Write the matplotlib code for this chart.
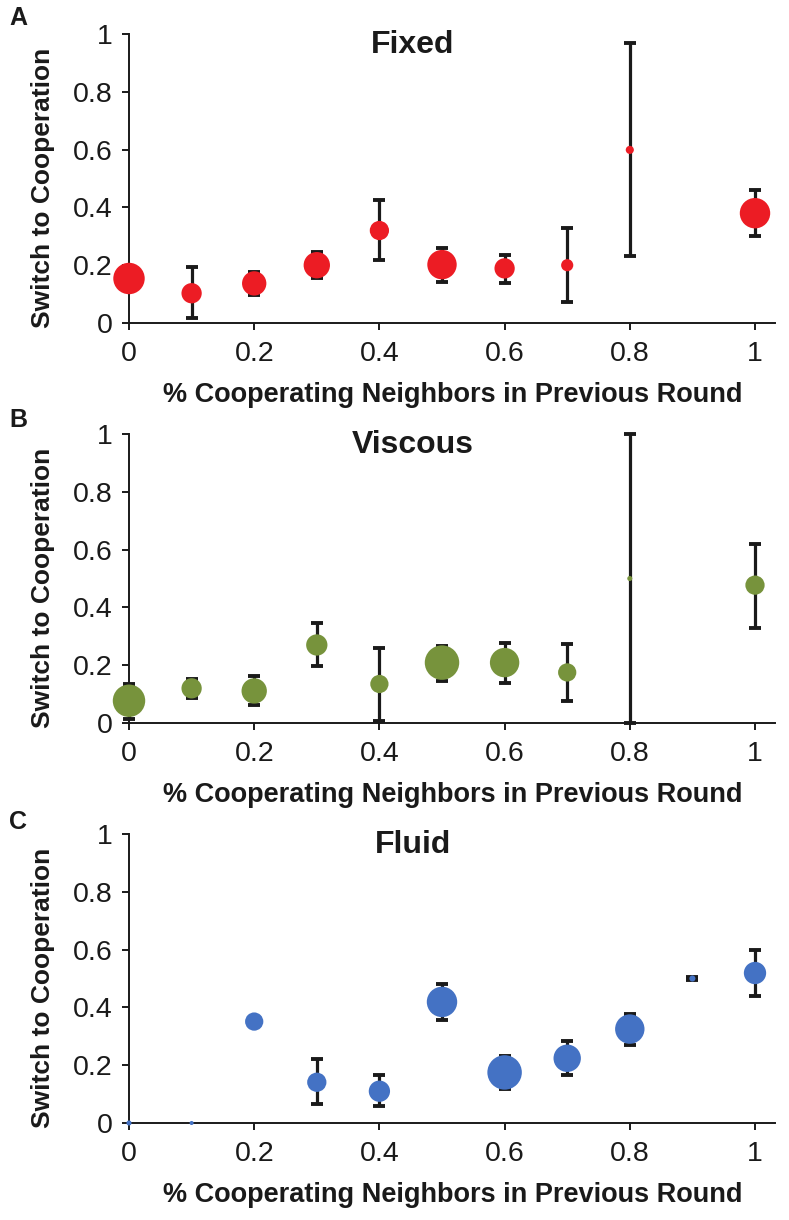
import numpy as np
import matplotlib
matplotlib.use('Agg')
import matplotlib.pyplot as plt

plt.rcParams['font.family'] = ['Liberation Sans', 'DejaVu Sans']

# neighbour share (x), switch rate (y), error bar ends, marker diameter (px)
fixed_x = [0, 0.1, 0.2, 0.3, 0.4, 0.5, 0.6, 0.7, 0.8, 1.0]
fixed_y = [0.154, 0.103, 0.137, 0.200, 0.320, 0.202, 0.189, 0.200, 0.599, 0.380]
fixed_lo = [np.nan, 0.016, 0.097, 0.154, 0.217, 0.143, 0.139, 0.071, 0.233, 0.301]
fixed_hi = [np.nan, 0.194, 0.177, 0.246, 0.424, 0.261, 0.236, 0.329, 0.968, 0.460]
fixed_n = [31, 20, 24, 26, 19, 29, 20, 12, 8, 30]

viscous_x = [0, 0.1, 0.2, 0.3, 0.4, 0.5, 0.6, 0.7, 0.8, 1.0]
viscous_y = [0.077, 0.120, 0.111, 0.270, 0.135, 0.209, 0.209, 0.175, 0.500, 0.477]
viscous_lo = [0.014, 0.085, 0.062, 0.196, 0.008, 0.146, 0.138, 0.077, 0.0, 0.330]
viscous_hi = [0.136, 0.153, 0.164, 0.346, 0.258, 0.268, 0.277, 0.274, 1.0, 0.620]
viscous_n = [32, 20, 25, 21, 18, 34, 29, 18, 5, 19]

fluid_x = [0, 0.1, 0.2, 0.3, 0.4, 0.5, 0.6, 0.7, 0.8, 0.9, 1.0]
fluid_y = [0.0, 0.0, 0.351, 0.141, 0.110, 0.419, 0.175, 0.224, 0.325, 0.500, 0.519]
fluid_lo = [np.nan, np.nan, np.nan, 0.067, 0.058, 0.358, 0.118, 0.166, 0.271, 0.495, 0.441]
fluid_hi = [np.nan, np.nan, np.nan, 0.221, 0.165, 0.482, 0.233, 0.283, 0.378, 0.505, 0.597]
fluid_n = [5, 4, 18, 19, 21, 30, 34, 27, 29, 6, 22]

panels = [
    ('A', 'Fixed', '#EC1C24', fixed_x, fixed_y, fixed_lo, fixed_hi, fixed_n),
    ('B', 'Viscous', '#77933C', viscous_x, viscous_y, viscous_lo, viscous_hi, viscous_n),
    ('C', 'Fluid', '#4472C4', fluid_x, fluid_y, fluid_lo, fluid_hi, fluid_n),
]

W, H = 789, 1220
fig = plt.figure(figsize=(W / 100, H / 100), dpi=100)

bottoms = [323, 723, 1123]   # pixel row of y=0 in each panel
letter_rows = [18, 420, 822]

for (letter, title, color, x, y, lo, hi, n), b, lr in zip(panels, bottoms, letter_rows):
    ax = fig.add_axes([129 / W, 1 - b / H, 646 / W, 289 / H])
    x = np.array(x); y = np.array(y)
    lo = np.array(lo); hi = np.array(hi)
    err = np.vstack([y - lo, hi - y])
    ax.errorbar(x, y, yerr=err, fmt='none', ecolor='#1a1a1a', elinewidth=2.3,
                capsize=4, capthick=2.8, zorder=2, clip_on=False)
    ax.scatter(x, y, s=(np.array(n) * 0.73) ** 2, color=color, edgecolors='none',
               zorder=3, clip_on=False)

    ax.set_xlim(0, 646 / 626)
    ax.set_ylim(0, 1)
    ax.set_xticks([0, 0.2, 0.4, 0.6, 0.8, 1])
    ax.set_xticklabels(['0', '0.2', '0.4', '0.6', '0.8', '1'])
    ax.set_yticks([0, 0.2, 0.4, 0.6, 0.8, 1])
    ax.set_yticklabels(['0', '0.2', '0.4', '0.6', '0.8', '1'])
    for s in ['top', 'right']:
        ax.spines[s].set_visible(False)
    for s in ['left', 'bottom']:
        ax.spines[s].set_linewidth(1.4)
        ax.spines[s].set_color('#1a1a1a')
    ax.tick_params(axis='both', direction='out', length=5, width=1.4,
                   labelsize=20.5, colors='#1a1a1a')
    ax.tick_params(axis='x', pad=8)
    ax.tick_params(axis='y', pad=7)

    ax.set_xlabel('% Cooperating Neighbors in Previous Round', fontsize=19.5,
                  fontweight='bold', color='#1a1a1a')
    ax.xaxis.set_label_coords(0.5015, -72 / 289)
    ax.xaxis.label.set_va('center')
    ax.set_ylabel('Switch to Cooperation', fontsize=19, fontweight='bold',
                  color='#1a1a1a')
    ax.yaxis.set_label_coords(-86 / 646, 0.467)
    ax.yaxis.label.set_va('center')

    ax.text(284 / 646, 0.962, title, transform=ax.transAxes, ha='center',
            va='center', fontsize=23, fontweight='bold', color='#1a1a1a')
    fig.text(18 / W, 1 - lr / H, letter, ha='center', va='center',
             fontsize=18, fontweight='bold', color='#1a1a1a')

fig.savefig('out.png', dpi=100)
